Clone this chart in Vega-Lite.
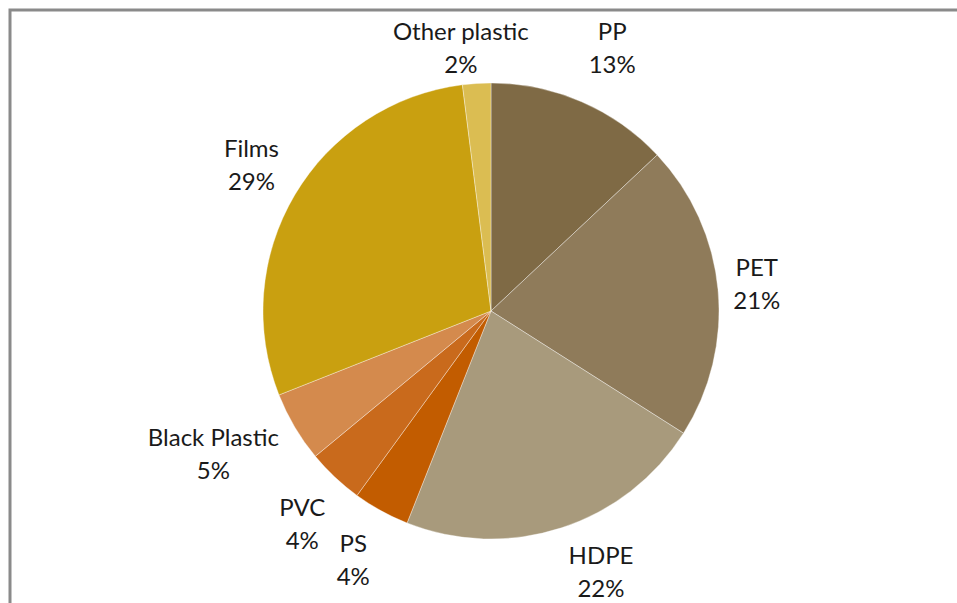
{
  "$schema": "https://vega.github.io/schema/vega-lite/v6.json",
  "autosize": "none",
  "width": 962,
  "height": 602,
  "padding": {"left": 10, "top": 10, "right": -15, "bottom": -9},
  "background": "white",
  "view": {"stroke": "#8a8a8a", "strokeWidth": 3, "fill": "white"},
  "data": {
    "values": [
      {"rank": 1, "category": "PP", "value": 13},
      {"rank": 2, "category": "PET", "value": 21},
      {"rank": 3, "category": "HDPE", "value": 22},
      {"rank": 4, "category": "PS", "value": 4},
      {"rank": 5, "category": "PVC", "value": 4},
      {"rank": 6, "category": "Black Plastic", "value": 5},
      {"rank": 7, "category": "Films", "value": 29},
      {"rank": 8, "category": "Other plastic", "value": 2}
    ]
  },
  "transform": [
    {"stack": "value", "groupby": [], "sort": [{"field": "rank", "order": "ascending"}], "as": ["v0", "v1"]},
    {"calculate": "(datum.v0 + datum.v1) / 2", "as": "mid"},
    {"calculate": "datum.category + '\\n' + datum.value + '%'", "as": "label"}
  ],
  "layer": [
    {
      "mark": {"type": "arc", "outerRadius": 228, "stroke": "white", "strokeWidth": 0.6, "strokeOpacity": 0.6},
      "encoding": {
        "theta": {"field": "v0", "type": "quantitative", "scale": {"domain": [0, 100]}},
        "theta2": {"field": "v1"},
        "color": {
          "field": "category",
          "type": "nominal",
          "sort": null,
          "legend": null,
          "scale": {
            "domain": ["PP", "PET", "HDPE", "PS", "PVC", "Black Plastic", "Films", "Other plastic"],
            "range": ["#7f6a45", "#8f7b5a", "#a89a7c", "#c25c00", "#c96a1c", "#d48a4d", "#c9a010", "#dbbd52"]
          }
        }
      }
    },
    {
      "transform": [{"filter": "datum.category == 'PP'"}],
      "mark": {"type": "text", "radius": 288, "thetaOffset": 0.026, "dy": -16.5, "font": "Lato", "fontSize": 24, "lineHeight": 33, "lineBreak": "\n", "align": "center", "baseline": "middle", "color": "#1a1a1a"},
      "encoding": {"theta": {"field": "mid", "type": "quantitative", "scale": {"domain": [0, 100]}}, "text": {"field": "label", "type": "nominal"}}
    },
    {
      "transform": [{"filter": "datum.category == 'PET'"}],
      "mark": {"type": "text", "radius": 267, "dy": -16.5, "font": "Lato", "fontSize": 24, "lineHeight": 33, "lineBreak": "\n", "align": "center", "baseline": "middle", "color": "#1a1a1a"},
      "encoding": {"theta": {"field": "mid", "type": "quantitative", "scale": {"domain": [0, 100]}}, "text": {"field": "label", "type": "nominal"}}
    },
    {
      "transform": [{"filter": "datum.category == 'HDPE'"}],
      "mark": {"type": "text", "radius": 285, "thetaOffset": -0.082, "dy": -16.5, "font": "Lato", "fontSize": 24, "lineHeight": 33, "lineBreak": "\n", "align": "center", "baseline": "middle", "color": "#1a1a1a"},
      "encoding": {"theta": {"field": "mid", "type": "quantitative", "scale": {"domain": [0, 100]}}, "text": {"field": "label", "type": "nominal"}}
    },
    {
      "transform": [{"filter": "datum.category == 'PS'"}],
      "mark": {"type": "text", "radius": 286, "dy": -16.5, "font": "Lato", "fontSize": 24, "lineHeight": 33, "lineBreak": "\n", "align": "center", "baseline": "middle", "color": "#1a1a1a"},
      "encoding": {"theta": {"field": "mid", "type": "quantitative", "scale": {"domain": [0, 100]}}, "text": {"field": "label", "type": "nominal"}}
    },
    {
      "transform": [{"filter": "datum.category == 'PVC'"}],
      "mark": {"type": "text", "radius": 286, "thetaOffset": -0.033, "dy": -16.5, "font": "Lato", "fontSize": 24, "lineHeight": 33, "lineBreak": "\n", "align": "center", "baseline": "middle", "color": "#1a1a1a"},
      "encoding": {"theta": {"field": "mid", "type": "quantitative", "scale": {"domain": [0, 100]}}, "text": {"field": "label", "type": "nominal"}}
    },
    {
      "transform": [{"filter": "datum.category == 'Black Plastic'"}],
      "mark": {"type": "text", "radius": 313, "thetaOffset": 0.054, "dy": -16.5, "font": "Lato", "fontSize": 24, "lineHeight": 33, "lineBreak": "\n", "align": "center", "baseline": "middle", "color": "#1a1a1a"},
      "encoding": {"theta": {"field": "mid", "type": "quantitative", "scale": {"domain": [0, 100]}}, "text": {"field": "label", "type": "nominal"}}
    },
    {
      "transform": [{"filter": "datum.category == 'Films'"}],
      "mark": {"type": "text", "radius": 280, "thetaOffset": 0.01, "dy": -16.5, "font": "Lato", "fontSize": 24, "lineHeight": 33, "lineBreak": "\n", "align": "center", "baseline": "middle", "color": "#1a1a1a"},
      "encoding": {"theta": {"field": "mid", "type": "quantitative", "scale": {"domain": [0, 100]}}, "text": {"field": "label", "type": "nominal"}}
    },
    {
      "transform": [{"filter": "datum.category == 'Other plastic'"}],
      "mark": {"type": "text", "radius": 263, "thetaOffset": -0.052, "dy": -16.5, "font": "Lato", "fontSize": 24, "lineHeight": 33, "lineBreak": "\n", "align": "center", "baseline": "middle", "color": "#1a1a1a"},
      "encoding": {"theta": {"field": "mid", "type": "quantitative", "scale": {"domain": [0, 100]}}, "text": {"field": "label", "type": "nominal"}}
    }
  ]
}
